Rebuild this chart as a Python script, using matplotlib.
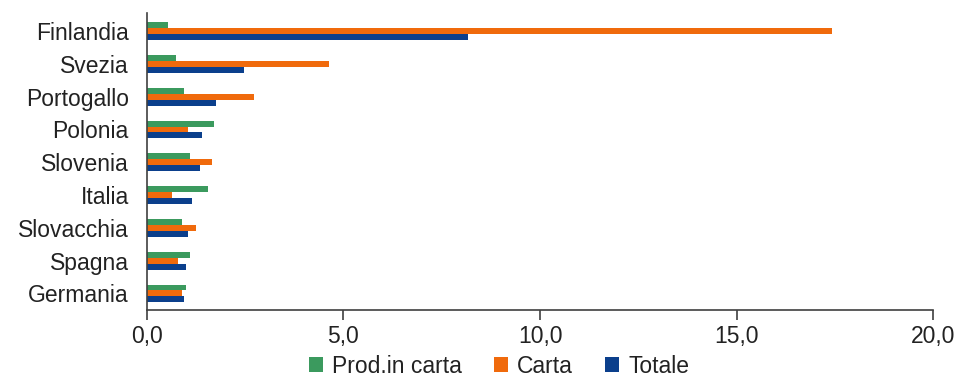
import matplotlib
matplotlib.use("Agg")
import matplotlib.pyplot as plt
import numpy as np
from matplotlib.ticker import FuncFormatter

plt.rcParams['font.family'] = ['Liberation Sans', 'DejaVu Sans']

countries = ["Finlandia", "Svezia", "Portogallo", "Polonia", "Slovenia",
             "Italia", "Slovacchia", "Spagna", "Germania"]
prod_in_carta = [0.54, 0.74, 0.95, 1.71, 1.10, 1.56, 0.90, 1.10, 1.00]
carta = [17.43, 4.63, 2.73, 1.05, 1.66, 0.64, 1.26, 0.80, 0.90]
totale = [8.16, 2.48, 1.77, 1.41, 1.36, 1.15, 1.05, 1.00, 0.95]
series_names = ["Prod.in carta", "Carta", "Totale"]
colors = ["#3B9A5E", "#F06A0C", "#0B3F8C"]

fig = plt.figure(figsize=(9.6, 3.83), dpi=100)
ax = fig.add_axes([0.153, 0.191, 0.819, 0.775])

y = np.arange(len(countries))
h = 0.18
for i, (vals, name, col) in enumerate(zip([prod_in_carta, carta, totale], series_names, colors)):
    ax.barh(y + (i - 1) * h, vals, height=h, color=col, label=name)

ax.set_ylim(8.5, -0.55)
ax.set_xlim(0, 20)
ax.set_xticks([0, 5, 10, 15, 20])
ax.xaxis.set_major_formatter(FuncFormatter(lambda v, p: f"{v:.1f}".replace(".", ",")))
ax.set_yticks(y)
ax.set_yticklabels(countries)

for s in ["top", "right"]:
    ax.spines[s].set_visible(False)
for s in ["left", "bottom"]:
    ax.spines[s].set_color("#404040")
    ax.spines[s].set_linewidth(1.2)
ax.tick_params(axis="y", length=0, labelsize=16.5, pad=13, colors="#222222")
ax.tick_params(axis="x", length=7, width=1.2, color="#404040", labelsize=16.5, pad=4,
               labelcolor="#222222")

fig.legend(loc="lower center", bbox_to_anchor=(0.52, -0.04), ncol=3, frameon=False,
           fontsize=16.5, handlelength=0.6, handleheight=0.6, handletextpad=0.4,
           columnspacing=1.4, labelcolor="#222222")

fig.savefig("out.png", dpi=100)
